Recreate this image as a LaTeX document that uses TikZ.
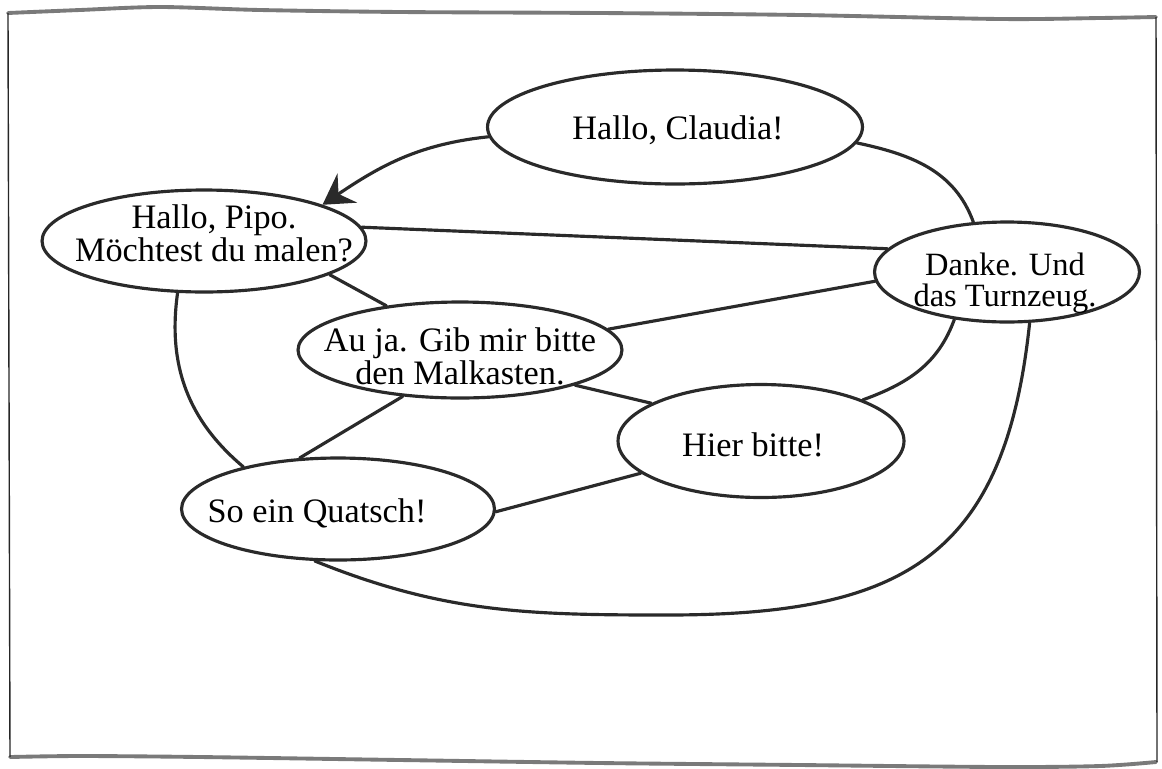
\documentclass[tikz,border=0pt]{standalone}
\usepackage{fontspec}
\setmainfont{Liberation Serif}
\usetikzlibrary{shapes.geometric,arrows.meta}
\definecolor{ink}{HTML}{2A2A2A}
\definecolor{pencil}{HTML}{7A7A7A}
\begin{document}
\begin{tikzpicture}[x=0.02cm,y=0.02cm,
  bubble/.style={ellipse,draw=ink,line width=1.8pt,inner sep=0pt},
  txt/.style={align=center,font=\fontsize{19.5}{17}\selectfont,inner sep=0pt,text=black},
  link/.style={draw=ink,line width=1.8pt,line cap=round},
  edgehz/.style={draw=pencil,line width=2.2pt,line cap=round},
  edgevt/.style={draw=black!85,line width=0.8pt}]
\useasboundingbox (0,0) rectangle (1162,-768);
% frame
\draw[edgehz] plot[smooth] coordinates {(8,-13) (80,-10) (160,-7) (260,-10) (400,-12) (600,-13) (800,-15) (1000,-19) (1100,-18) (1156,-17)};
\draw[edgehz] plot[smooth] coordinates {(10,-757) (80,-756) (200,-757) (400,-760) (600,-763) (800,-765) (1000,-767) (1100,-766) (1156,-762)};
\draw[edgevt] (8,-13) -- (10,-757);
\draw[edgevt] (1156,-17) -- (1157,-762);
% bubbles
\node[bubble,minimum width=7.5cm,minimum height=2.28cm] (claudia) at (675,-127) {};
\node[bubble,minimum width=6.48cm,minimum height=2.04cm] (pipo) at (204,-241) {};
\node[bubble,minimum width=5.3cm,minimum height=2.0cm] (danke) at (1007,-272) {};
\node[bubble,minimum width=6.48cm,minimum height=1.92cm] (auja) at (460,-350) {};
\node[bubble,minimum width=5.72cm,minimum height=2.26cm] (hier) at (761,-441) {};
\node[bubble,minimum width=6.26cm,minimum height=2.04cm] (quatsch) at (338,-509) {};
% texts
\node[txt,anchor=base] (tclaudia) at (678,-139) {Hallo, Claudia!};
\node[txt] (tpipo) at (214,-233) {Hallo, Pipo.\\Möchtest du malen?};
\node[txt,font=\fontsize{18.5}{17.5}\selectfont] (tdanke) at (1005,-283) {Danke. Und\\das Turnzeug.};
\node[txt] (tauja) at (460,-356) {Au ja. Gib mir bitte\\den Malkasten.};
\node[txt,anchor=base] (thier) at (753,-456) {Hier bitte!};
\node[txt,anchor=base] (tquatsch) at (317,-522) {So ein Quatsch!};
% connectors
\draw[link,-{Stealth[length=17pt,width=20pt,inset=6pt]}] (claudia.183) to[out=186,in=34] (pipo.17);
\draw[link] (claudia.355) to[out=-12,in=110] (danke.124);
\draw[link] (pipo.5) -- (danke.169);
\draw[link] (pipo.345) -- (auja.149);
\draw[link] (pipo.243) to[out=262,in=140] (quatsch.156);
\draw[link] (auja.8) -- (danke.184);
\draw[link] (auja.343) -- (hier.161);
\draw[link] (auja.219) -- (quatsch.127);
\draw[link] (hier.22) to[out=20,in=250] (danke.222);
\draw[link] (quatsch.359) -- (hier.195);
\draw[link] (quatsch.246) to[out=-22,in=180] (667,-615) to[out=0,in=264,looseness=1.3] (danke.294);
\end{tikzpicture}
\end{document}
